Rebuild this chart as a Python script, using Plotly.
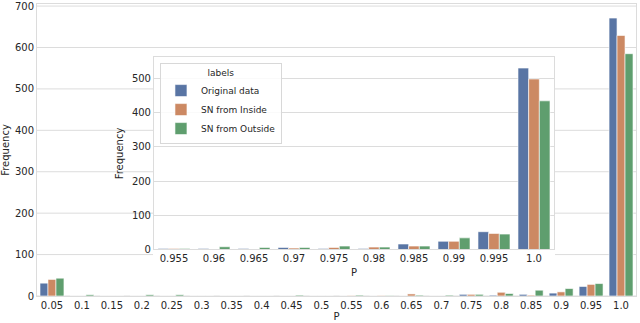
import plotly.graph_objects as go

# ---------------- data ----------------
main_categories = ["0.05", "0.1", "0.15", "0.2", "0.25", "0.3", "0.35", "0.4", "0.45", "0.5",
                   "0.55", "0.6", "0.65", "0.7", "0.75", "0.8", "0.85", "0.9", "0.95", "1.0"]
main_original = [31, 0, 0, 0, 0, 0, 0, 0, 0, 0, 0, 0, 0, 0, 4, 2, 4, 7, 23, 671]
main_inside = [40, 0, 0, 0, 0, 0, 0, 0, 0, 0, 1, 1, 5, 0, 4, 9, 2, 10, 28, 629]
main_outside = [43, 3, 0, 3, 3, 0, 0, 0, 2, 0, 2, 1, 2, 2, 4, 6, 14, 18, 30, 585]
main_yticks = [0, 100, 200, 300, 400, 500, 600, 700]

inset_categories = ["0.955", "0.96", "0.965", "0.97", "0.975", "0.98", "0.985", "0.99", "0.995", "1.0"]
inset_original = [3, 3, 3, 6, 3, 3, 16, 24, 52, 531]
inset_inside = [3, 0, 0, 4, 6, 7, 10, 24, 47, 499]
inset_outside = [3, 8, 6, 6, 10, 7, 10, 34, 45, 435]
inset_yticks = [0, 100, 200, 300, 400, 500]

series_names = ["Original data", "SN from Inside", "SN from Outside"]
colors = ["#5975A4", "#CC8963", "#5F9E6E"]

# ---------------- figure ----------------
TXT = "#262626"
GRID = "#dcdcdc"
FONT = "DejaVu Sans"

fig = go.Figure()
for name, vals, col in zip(series_names, [main_original, main_inside, main_outside], colors):
    fig.add_trace(go.Bar(x=main_categories, y=vals, name=name, marker=dict(color=col, line=dict(color="white", width=0.6)),
                         showlegend=False, xaxis="x", yaxis="y"))
for name, vals, col in zip(series_names, [inset_original, inset_inside, inset_outside], colors):
    fig.add_trace(go.Bar(x=inset_categories, y=vals, name=name, marker=dict(color=col, line=dict(color="white", width=0.6)),
                         showlegend=True, xaxis="x2", yaxis="y2"))

# main gridlines drawn as below-layer shapes so that the inset can cover them
for v in main_yticks:
    fig.add_shape(type="line", xref="paper", yref="y", x0=0, x1=1, y0=v, y1=v,
                  layer="below", line=dict(color=GRID, width=1))
# white background of the inset (covers main gridlines)
fig.add_shape(type="rect", xref="paper", yref="paper", x0=0.1937, x1=0.8648, y0=0.04, y1=0.8203,
              layer="below", line=dict(width=0), fillcolor="white")

axis_common = dict(showline=True, linecolor=GRID, linewidth=1, mirror=True, ticks="",
                   tickfont=dict(family=FONT, size=10, color=TXT))

fig.update_layout(
    width=640, height=323,
    margin=dict(l=37, r=4, t=1, b=27),
    paper_bgcolor="white", plot_bgcolor="white",
    barmode="group", bargap=0.2, bargroupgap=0,
    hovermode=False,
    font=dict(family=FONT, size=10, color=TXT),
    xaxis=dict(type="category", domain=[0, 1], anchor="y", showgrid=False,
               title=dict(text="P", font=dict(family=FONT, size=10, color=TXT), standoff=2), **axis_common),
    yaxis=dict(domain=[0, 1], anchor="x", range=[0, 705], tickvals=main_yticks, showgrid=False, zeroline=False,
               ticklabeloverflow="allow",
               title=dict(text="Frequency", font=dict(family=FONT, size=10, color=TXT), standoff=7), **axis_common),
    xaxis2=dict(type="category", domain=[0.1953, 0.8631], anchor="y2", showgrid=False,
                title=dict(text="P", font=dict(family=FONT, size=10, color=TXT), standoff=5), **axis_common),
    yaxis2=dict(domain=[0.1593, 0.8169], anchor="x2", range=[0, 562], tickvals=inset_yticks,
                showgrid=True, gridcolor=GRID, gridwidth=1, zeroline=False,
                title=dict(text="Frequency", font=dict(family=FONT, size=10, color=TXT), standoff=6), **axis_common),
    legend=dict(x=0.2053, y=0.7966, xanchor="left", yanchor="top",
                bgcolor="rgba(255,255,255,0.85)", bordercolor="#d8d8d8", borderwidth=1,
                font=dict(family=FONT, size=9, color=TXT),
                title=dict(text="labels", side="top center", font=dict(family=FONT, size=9, color=TXT)),
                tracegroupgap=0, itemwidth=30),
)

fig.write_html("out.html", config={"displayModeBar": False, "staticPlot": True},
               post_script="document.body.style.margin='0';document.body.style.overflow='hidden';")
